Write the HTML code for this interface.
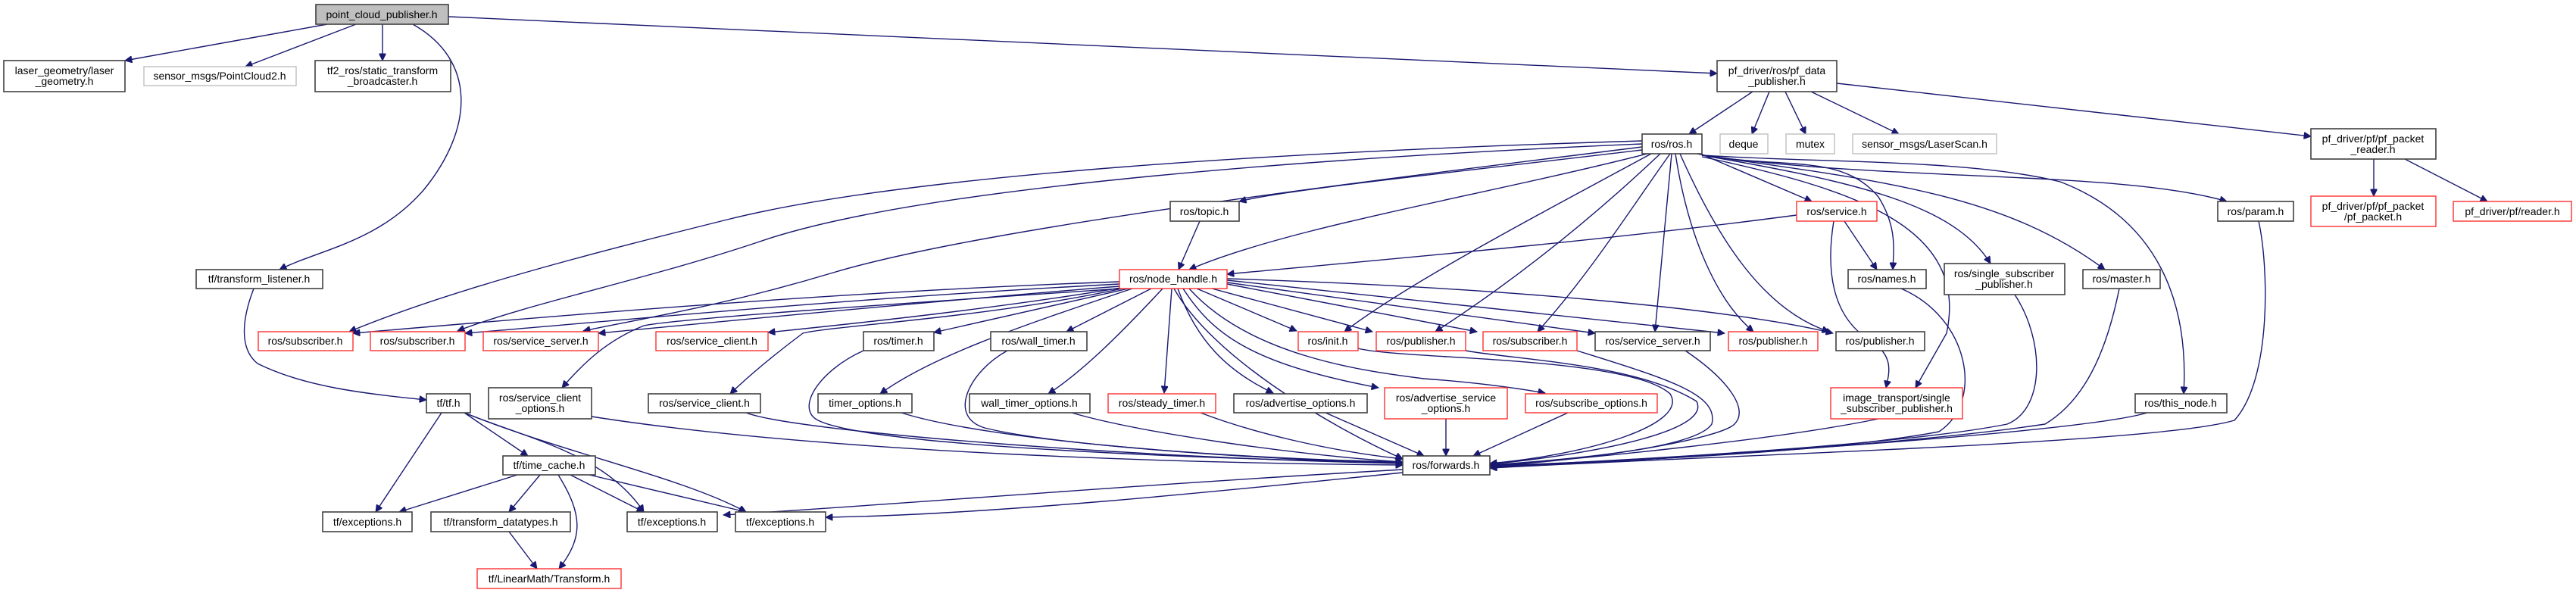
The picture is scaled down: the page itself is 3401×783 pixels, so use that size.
<!DOCTYPE html>
<html><head><meta charset="utf-8"><style>
html,body{margin:0;padding:0;background:#fff;}
svg{display:block}
text{font-family:"Liberation Sans",sans-serif;font-size:14px;fill:#000;text-anchor:middle}
.e{fill:none;stroke:#191970;stroke-width:1.4;marker-end:url(#a)}
.b{fill:#fff;stroke:#404040;stroke-width:1.6}
.r{fill:#fff;stroke:#ff3030;stroke-width:1.4}
.g{fill:#fff;stroke:#bfbfbf;stroke-width:1.4}
</style></head><body>
<svg width="3401" height="783" viewBox="0 0 3401 783" xmlns="http://www.w3.org/2000/svg">
<defs><marker id="a" viewBox="0 0 10 10" refX="10" refY="5" markerWidth="12" markerHeight="9" markerUnits="userSpaceOnUse" orient="auto"><path d="M0,0 L10,5 L0,10 z" fill="#191970" stroke="#191970"/></marker></defs>

<g>
<path class="e" d="M432,32 L165,80"/>
<path class="e" d="M470,32 L324,88"/>
<path class="e" d="M505,32 L505,80"/>
<path class="e" d="M545,32 C630,80 625,170 560,250 C500,320 420,330 369,356"/>
<path class="e" d="M592,22 L2267,97"/>
<path class="e" d="M335,381 C320,420 315,460 340,480 C400,510 480,520 563,528"/>
<path class="e" d="M583,545 L496,676"/>
<path class="e" d="M613,545 L697,602"/>
<path class="e" d="M613,545 C700,580 800,600 850,676"/>
<path class="e" d="M613,545 C750,600 900,630 985,676"/>
<path class="e" d="M683,627 L527,676"/>
<path class="e" d="M713,627 L672,676"/>
<path class="e" d="M737,627 C770,680 770,710 738,751"/>
<path class="e" d="M753,627 L850,676"/>
<path class="e" d="M778,627 L985,676"/>
<path class="e" d="M672,702 L709,751"/>

<path class="e" d="M2314,121 L2230,177"/>
<path class="e" d="M2336,121 L2313,177"/>
<path class="e" d="M2357,121 L2384,177"/>
<path class="e" d="M2391,121 L2507,177"/>
<path class="e" d="M2425,110 L3051,180"/>
<path class="e" d="M3134,210 L3134,259"/>
<path class="e" d="M3175,210 L3284,266"/>

<path class="e" d="M2168,186 C1700,200 1200,230 960,290 C800,330 600,380 461,438"/>
<path class="e" d="M2168,190 C1700,210 1200,250 1000,320 C850,370 700,400 604,437"/>
<path class="e" d="M2168,194 C1800,240 1300,300 1100,360 C950,405 850,420 770,437"/>
<path class="e" d="M2168,198 C1900,230 1700,250 1636,266"/>
<path class="e" d="M2175,203 C1950,260 1700,300 1570,356"/>
<path class="e" d="M2180,203 C2000,300 1850,380 1775,438"/>
<path class="e" d="M2192,203 C2100,290 2000,370 1895,438"/>
<path class="e" d="M2205,203 C2150,280 2100,360 2030,438"/>
<path class="e" d="M2207,203 L2185,438"/>
<path class="e" d="M2212,203 C2230,320 2270,400 2315,438"/>
<path class="e" d="M2218,203 C2270,320 2330,410 2415,438"/>
<path class="e" d="M2245,203 L2392,266"/>
<path class="e" d="M2240,203 C2350,225 2430,200 2480,260 C2505,300 2500,330 2499,356"/>
<path class="e" d="M2247,205 C2450,240 2580,270 2628,348"/>
<path class="e" d="M2247,205 C2500,240 2650,260 2779,356"/>
<path class="e" d="M2247,205 C2500,240 2800,225 2940,266"/>
<path class="e" d="M2247,205 C2400,215 2600,210 2720,240 C2850,290 2890,400 2883,520"/>
<path class="e" d="M2247,207 C2450,250 2600,300 2570,440 L2529,512"/>
<path class="e" d="M2372,284 C2100,320 1800,345 1620,362"/>
<path class="e" d="M2435,292 L2478,356"/>
<path class="e" d="M2421,292 C2410,360 2420,420 2470,450 C2500,470 2495,490 2490,512"/>
<path class="e" d="M1584,292 L1556,356"/>

<path class="e" d="M1478,372 C1100,385 700,420 466,440"/>
<path class="e" d="M1478,375 C1100,395 800,425 614,440"/>
<path class="e" d="M1478,378 C1200,400 900,430 790,440"/>
<path class="e" d="M1480,380 C1300,410 1100,430 1014,439"/>
<path class="e" d="M1480,381 C1200,400 900,420 850,430 C800,450 770,480 742,512"/>
<path class="e" d="M1482,381 C1300,420 1100,430 1060,440 C1020,470 990,495 964,520"/>
<path class="e" d="M1490,381 L1233,439"/>
<path class="e" d="M1495,381 C1350,430 1230,470 1162,520"/>
<path class="e" d="M1520,381 L1408,438"/>
<path class="e" d="M1535,381 C1480,440 1430,490 1384,520"/>
<path class="e" d="M1547,381 L1537,519"/>
<path class="e" d="M1555,381 C1580,450 1620,490 1681,519"/>
<path class="e" d="M1562,381 C1600,440 1650,480 1820,512"/>
<path class="e" d="M1570,381 C1650,470 1800,490 1880,500 C1950,505 2000,512 2040,519"/>
<path class="e" d="M1580,381 L1712,437"/>
<path class="e" d="M1600,381 L1812,438"/>
<path class="e" d="M1620,375 L1950,438"/>
<path class="e" d="M1620,373 L2106,440"/>
<path class="e" d="M1620,370 L2277,440"/>
<path class="e" d="M1620,368 C2000,380 2300,410 2420,440"/>
<path class="e" d="M1550,381 C1600,470 1750,560 1852,606"/>

<path class="e" d="M781,550 C1100,600 1600,612 1852,614"/>
<path class="e" d="M985,545 C1050,570 1500,605 1852,612"/>
<path class="e" d="M1190,545 C1300,580 1600,605 1852,610"/>
<path class="e" d="M1140,463 C1080,490 1050,540 1080,555 C1150,590 1600,606 1852,611"/>
<path class="e" d="M1330,463 C1280,490 1250,550 1300,565 C1400,590 1700,608 1852,612"/>
<path class="e" d="M1415,545 C1500,570 1700,600 1852,610"/>
<path class="e" d="M1585,545 C1650,570 1750,595 1852,606"/>
<path class="e" d="M1750,545 L1880,602"/>
<path class="e" d="M1909,553 L1909,602"/>
<path class="e" d="M2070,545 L1945,602"/>
<path class="e" d="M1793,460 C1850,475 2150,470 2205,520 C2230,560 2100,600 1967,612"/>
<path class="e" d="M1935,463 C2000,475 2160,480 2240,530 C2260,570 2100,600 1967,613"/>
<path class="e" d="M2082,463 C2200,500 2270,520 2260,560 C2240,590 2100,605 1967,614"/>
<path class="e" d="M2225,463 C2280,500 2310,540 2290,560 C2270,580 2100,608 1967,615"/>
<path class="e" d="M2480,553 C2350,580 2100,605 1967,615"/>
<path class="e" d="M2510,381 C2600,420 2620,530 2560,570 C2400,600 2100,610 1967,615"/>
<path class="e" d="M2660,389 C2700,450 2700,540 2650,560 C2500,590 2100,610 1967,616"/>
<path class="e" d="M2798,381 C2780,470 2750,530 2700,560 C2500,590 2100,612 1967,617"/>
<path class="e" d="M2835,545 C2750,570 2300,600 1967,617"/>
<path class="e" d="M2982,292 C2995,350 3000,500 2950,555 C2850,585 2300,600 1967,618"/>
<path class="e" d="M1852,620 C1500,640 1200,665 955,680"/>
<path class="e" d="M1852,624 C1600,650 1300,680 1090,683"/>
</g>

<g>
<rect x="417" y="6" width="175" height="26" fill="#bfbfbf" stroke="#404040" stroke-width="1.6"/><text x="504" y="24">point_cloud_publisher.h</text>
<rect class="b" x="5" y="80" width="160" height="41"/><text x="85" y="98">laser_geometry/laser</text><text x="85" y="112">_geometry.h</text>
<rect class="g" x="190" y="88" width="201" height="25"/><text x="290" y="105">sensor_msgs/PointCloud2.h</text>
<rect class="b" x="416" y="80" width="179" height="41"/><text x="505" y="98">tf2_ros/static_transform</text><text x="505" y="112">_broadcaster.h</text>
<rect class="b" x="259" y="356" width="167" height="25"/><text x="342" y="373">tf/transform_listener.h</text>

<rect class="r" x="341" y="438" width="125" height="25"/><text x="403" y="455">ros/subscriber.h</text>
<rect class="r" x="489" y="438" width="125" height="25"/><text x="551" y="455">ros/subscriber.h</text>
<rect class="r" x="638" y="438" width="152" height="25"/><text x="714" y="455">ros/service_server.h</text>
<rect class="b" x="563" y="520" width="58" height="25"/><text x="592" y="537">tf/tf.h</text>
<rect class="b" x="645" y="512" width="136" height="41"/><text x="713" y="530">ros/service_client</text><text x="713" y="544">_options.h</text>
<rect class="b" x="664" y="602" width="122" height="25"/><text x="725" y="619">tf/time_cache.h</text>
<rect class="b" x="426" y="676" width="118" height="26"/><text x="485" y="694">tf/exceptions.h</text>
<rect class="b" x="569" y="676" width="184" height="26"/><text x="661" y="694">tf/transform_datatypes.h</text>
<rect class="r" x="630" y="751" width="190" height="26"/><text x="725" y="769">tf/LinearMath/Transform.h</text>
<rect class="b" x="828" y="676" width="119" height="26"/><text x="887" y="694">tf/exceptions.h</text>
<rect class="b" x="971" y="676" width="119" height="26"/><text x="1030" y="694">tf/exceptions.h</text>

<rect class="r" x="866" y="438" width="148" height="25"/><text x="940" y="455">ros/service_client.h</text>
<rect class="b" x="1140" y="438" width="93" height="25"/><text x="1186" y="455">ros/timer.h</text>
<rect class="b" x="1308" y="438" width="127" height="25"/><text x="1371" y="455">ros/wall_timer.h</text>
<rect class="b" x="856" y="520" width="148" height="25"/><text x="930" y="537">ros/service_client.h</text>
<rect class="b" x="1080" y="520" width="124" height="25"/><text x="1142" y="537">timer_options.h</text>
<rect class="b" x="1280" y="520" width="159" height="25"/><text x="1359" y="537">wall_timer_options.h</text>
<rect class="r" x="1463" y="520" width="142" height="25"/><text x="1534" y="537">ros/steady_timer.h</text>
<rect class="b" x="1629" y="520" width="176" height="25"/><text x="1717" y="537">ros/advertise_options.h</text>

<rect class="b" x="1545" y="266" width="91" height="26"/><text x="1590" y="284">ros/topic.h</text>
<rect class="r" x="1478" y="356" width="142" height="25"/><text x="1549" y="373">ros/node_handle.h</text>

<rect class="b" x="2267" y="80" width="158" height="41"/><text x="2346" y="98">pf_driver/ros/pf_data</text><text x="2346" y="112">_publisher.h</text>
<rect class="b" x="2168" y="177" width="79" height="26"/><text x="2207" y="195">ros/ros.h</text>
<rect class="g" x="2271" y="177" width="63" height="26"/><text x="2302" y="195">deque</text>
<rect class="g" x="2358" y="177" width="64" height="26"/><text x="2390" y="195">mutex</text>
<rect class="g" x="2446" y="177" width="190" height="26"/><text x="2541" y="195">sensor_msgs/LaserScan.h</text>
<rect class="r" x="2372" y="266" width="106" height="26"/><text x="2425" y="284">ros/service.h</text>
<rect class="b" x="2440" y="356" width="103" height="25"/><text x="2491" y="373">ros/names.h</text>

<rect class="b" x="3051" y="170" width="165" height="40"/><text x="3133" y="188">pf_driver/pf/pf_packet</text><text x="3133" y="202">_reader.h</text>
<rect class="b" x="2928" y="266" width="100" height="26"/><text x="2978" y="284">ros/param.h</text>
<rect class="r" x="3051" y="259" width="165" height="40"/><text x="3133" y="277">pf_driver/pf/pf_packet</text><text x="3133" y="291">/pf_packet.h</text>
<rect class="r" x="3239" y="266" width="156" height="26"/><text x="3317" y="284">pf_driver/pf/reader.h</text>
<rect class="b" x="2567" y="348" width="159" height="41"/><text x="2646" y="366">ros/single_subscriber</text><text x="2646" y="380">_publisher.h</text>
<rect class="b" x="2750" y="356" width="102" height="25"/><text x="2801" y="373">ros/master.h</text>
<rect class="b" x="2819" y="520" width="121" height="25"/><text x="2879" y="537">ros/this_node.h</text>

<rect class="r" x="1714" y="438" width="79" height="25"/><text x="1753" y="455">ros/init.h</text>
<rect class="r" x="1817" y="438" width="118" height="25"/><text x="1876" y="455">ros/publisher.h</text>
<rect class="r" x="1958" y="438" width="124" height="25"/><text x="2020" y="455">ros/subscriber.h</text>
<rect class="b" x="2106" y="438" width="152" height="25"/><text x="2182" y="455">ros/service_server.h</text>
<rect class="r" x="2282" y="438" width="118" height="25"/><text x="2341" y="455">ros/publisher.h</text>
<rect class="b" x="2424" y="438" width="117" height="25"/><text x="2482" y="455">ros/publisher.h</text>
<rect class="r" x="1828" y="512" width="162" height="41"/><text x="1909" y="530">ros/advertise_service</text><text x="1909" y="544">_options.h</text>
<rect class="r" x="2014" y="520" width="174" height="25"/><text x="2101" y="537">ros/subscribe_options.h</text>
<rect class="b" x="1852" y="602" width="115" height="25"/><text x="1909" y="619">ros/forwards.h</text>
<rect class="r" x="2417" y="512" width="174" height="41"/><text x="2504" y="530">image_transport/single</text><text x="2504" y="544">_subscriber_publisher.h</text>
</g>
</svg>
</body></html>
